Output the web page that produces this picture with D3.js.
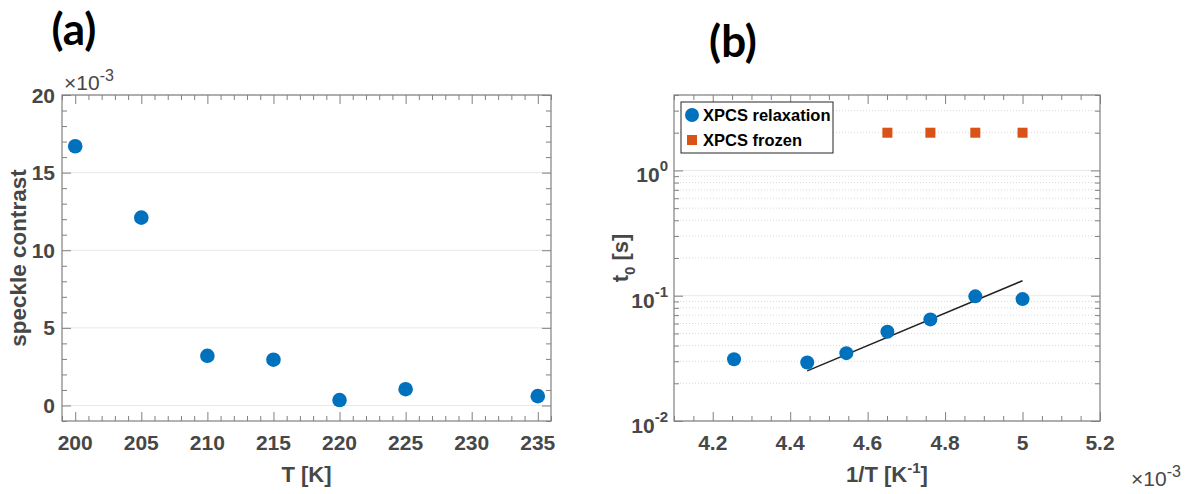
<!DOCTYPE html>
<html>
<head>
<meta charset="utf-8">
<script src="https://cdn.jsdelivr.net/npm/d3@7"></script>
<style>
  body { margin: 0; background: #fff; }
  text { font-family: "Liberation Sans", Arial, sans-serif; }
</style>
</head>
<body>
<div id="chart"></div>
<script>
// (a) speckle contrast vs temperature (values in units of 1e-3)
const temps = [200, 205, 210, 215, 220, 225, 235];
const contrast = [16.7, 12.1, 3.2, 2.95, 0.35, 1.05, 0.6];

// (b) relaxation time vs inverse temperature (1/T in units of 1e-3 K^-1)
const invT = [4.255, 4.444, 4.545, 4.651, 4.762, 4.878, 5.0];
const t0Relax = [0.0311, 0.0293, 0.0348, 0.0515, 0.0647, 0.0988, 0.094];
const invTFrozen = [4.651, 4.762, 4.878, 5.0];
const t0Frozen = [2, 2, 2, 2];
const fitX = [4.444, 5.0];
const fitY = [0.0251, 0.1318];

// tick labels
const ticksTa = [200, 205, 210, 215, 220, 225, 230, 235];
const ticksContrast = [0, 5, 10, 15, 20];
const ticksInvT = [4.2, 4.4, 4.6, 4.8, 5.0, 5.2];
const ticksT0 = [0.01, 0.1, 1];

const width = 1204;
const height = 494;
const blue = "#0072BD";
const orange = "#D95319";
const axisColor = "#808080";
const textColor = "#474747";
const gridColor = "#e8e8e8";

const svg = d3.select("#chart")
  .append("svg")
  .attr("width", width)
  .attr("height", height);

// frame of the two panels
const A = { left: 62, right: 551, top: 95, bottom: 421 };
const B = { left: 674, right: 1100, top: 95, bottom: 421 };

// scales
const xA = d3.scaleLinear().domain([199, 236]).range([A.left, A.right]);
const yA = d3.scaleLinear().domain([-1, 20]).range([A.bottom, A.top]);
const xB = d3.scaleLinear().domain([4.1, 5.2]).range([B.left, B.right]);
const yB = d3.scaleLog().domain([0.01, 4]).range([B.bottom, B.top]);

// draw ticks on all four sides, pointing inward
function boxAxes(P, x, y, xMajor, xMinor, yMajor, yMinor) {
  const g = svg.append("g");
  const axes = [
    [d3.axisBottom(x), `translate(0,${P.bottom})`, xMajor, xMinor],
    [d3.axisTop(x), `translate(0,${P.top})`, xMajor, xMinor],
    [d3.axisLeft(y), `translate(${P.left},0)`, yMajor, yMinor],
    [d3.axisRight(y), `translate(${P.right},0)`, yMajor, yMinor]
  ];
  axes.forEach(([ax, tr, major, minor]) => {
    g.append("g").attr("transform", tr)
      .call(ax.tickValues(minor).tickSize(-5).tickFormat("").tickSizeOuter(0));
    g.append("g").attr("transform", tr)
      .call(ax.tickValues(major).tickSize(-9).tickFormat("").tickSizeOuter(0));
  });
  g.selectAll("line").attr("stroke", axisColor);
  g.selectAll("path.domain").remove();
  g.append("rect")
    .attr("x", P.left).attr("y", P.top)
    .attr("width", P.right - P.left).attr("height", P.bottom - P.top)
    .attr("fill", "none").attr("stroke", axisColor).attr("stroke-width", 1.2);
}

// ---------- panel (a) ----------
svg.append("g").selectAll("line")
  .data(ticksContrast)
  .enter().append("line")
  .attr("x1", A.left).attr("x2", A.right)
  .attr("y1", d => yA(d)).attr("y2", d => yA(d))
  .attr("stroke", gridColor);

boxAxes(A, xA, yA, ticksTa, d3.range(199, 237).filter(v => v % 5 !== 0),
  ticksContrast, d3.range(-1, 21).filter(v => v % 5 !== 0));

svg.append("g").selectAll("text")
  .data(ticksTa).enter().append("text")
  .attr("x", d => xA(d)).attr("y", 450)
  .attr("text-anchor", "middle")
  .attr("font-size", 21).attr("font-weight", "bold").attr("fill", textColor)
  .text(d => d);

svg.append("g").selectAll("text")
  .data(ticksContrast).enter().append("text")
  .attr("x", A.left - 7).attr("y", d => yA(d)).attr("dy", "0.36em")
  .attr("text-anchor", "end")
  .attr("font-size", 21).attr("font-weight", "bold").attr("fill", textColor)
  .text(d => d);

svg.append("g").selectAll("circle")
  .data(temps).enter().append("circle")
  .attr("cx", d => xA(d))
  .attr("cy", (d, i) => yA(contrast[i]))
  .attr("r", 7.3)
  .attr("fill", blue);

const expA = svg.append("text")
  .attr("x", 64).attr("y", 90)
  .attr("font-size", 21).attr("fill", textColor);
expA.append("tspan").text("\u00d710");
expA.append("tspan").attr("dy", -9).attr("font-size", 16).text("-3");

svg.append("text")
  .attr("x", xA(217.5)).attr("y", 482)
  .attr("text-anchor", "middle")
  .attr("font-size", 22).attr("font-weight", "bold").attr("fill", textColor)
  .text("T [K]");

svg.append("text")
  .attr("transform", `translate(26,${(A.top + A.bottom) / 2}) rotate(-90)`)
  .attr("text-anchor", "middle")
  .attr("font-size", 22.5).attr("font-weight", "bold").attr("fill", textColor)
  .text("speckle contrast");

svg.append("text")
  .attr("x", 74).attr("y", 45)
  .attr("text-anchor", "middle")
  .style("font-family", "Lato, 'Open Sans', sans-serif")
  .attr("font-size", 44).attr("font-weight", "bold").attr("fill", "#000")
  .text("(a)");

// ---------- panel (b) ----------
const minorT0 = [];
[0.01, 0.1, 1].forEach(dec => {
  d3.range(2, 10).forEach(k => {
    if (dec * k <= 4) minorT0.push(dec * k);
  });
});

svg.append("g").selectAll("line")
  .data(minorT0).enter().append("line")
  .attr("x1", B.left).attr("x2", B.right)
  .attr("y1", d => yB(d)).attr("y2", d => yB(d))
  .attr("stroke", "#d9d9d9")
  .attr("stroke-dasharray", "1,2");

svg.append("g").selectAll("line")
  .data(ticksT0).enter().append("line")
  .attr("x1", B.left).attr("x2", B.right)
  .attr("y1", d => yB(d)).attr("y2", d => yB(d))
  .attr("stroke", gridColor);

const minorInvT = d3.range(0, 23).map(i => +(4.1 + i * 0.05).toFixed(2))
  .filter(v => !ticksInvT.some(t => Math.abs(t - v) < 1e-6));
boxAxes(B, xB, yB, ticksInvT, minorInvT, ticksT0, minorT0);

svg.append("g").selectAll("text")
  .data(ticksInvT).enter().append("text")
  .attr("x", d => xB(d)).attr("y", 450)
  .attr("text-anchor", "middle")
  .attr("font-size", 21).attr("font-weight", "bold").attr("fill", textColor)
  .text(d => d3.format("~g")(d));

const yLab = svg.append("g").selectAll("text")
  .data(ticksT0).enter().append("text")
  .attr("x", B.left - 6).attr("y", d => yB(d) + 12)
  .attr("text-anchor", "end")
  .attr("font-size", 21).attr("font-weight", "bold").attr("fill", textColor);
yLab.append("tspan").text("10");
yLab.append("tspan").attr("dy", -11).attr("font-size", 15)
  .text(d => Math.round(Math.log10(d)));

// fit line
svg.append("path")
  .datum(fitX.map((x, i) => [x, fitY[i]]))
  .attr("d", d3.line().x(d => xB(d[0])).y(d => yB(d[1])))
  .attr("fill", "none").attr("stroke", "#222").attr("stroke-width", 1.5);

svg.append("g").selectAll("circle")
  .data(invT).enter().append("circle")
  .attr("cx", d => xB(d))
  .attr("cy", (d, i) => yB(t0Relax[i]))
  .attr("r", 7)
  .attr("fill", blue);

svg.append("g").selectAll("rect")
  .data(invTFrozen).enter().append("rect")
  .attr("x", d => xB(d) - 5)
  .attr("y", (d, i) => yB(t0Frozen[i]) - 5)
  .attr("width", 10).attr("height", 10)
  .attr("fill", orange);

// legend
const leg = svg.append("g");
leg.append("rect")
  .attr("x", 681).attr("y", 102).attr("width", 152).attr("height", 51)
  .attr("fill", "#fff").attr("stroke", "#262626").attr("stroke-width", 1);
leg.append("circle").attr("cx", 692).attr("cy", 115).attr("r", 7).attr("fill", blue);
leg.append("rect").attr("x", 687).attr("y", 135).attr("width", 10).attr("height", 10).attr("fill", orange);
leg.append("text").attr("x", 703).attr("y", 121)
  .attr("font-size", 16.5).attr("font-weight", "bold").attr("fill", "#000")
  .text("XPCS relaxation");
leg.append("text").attr("x", 703).attr("y", 146)
  .attr("font-size", 16.5).attr("font-weight", "bold").attr("fill", "#000")
  .text("XPCS frozen");

const expB = svg.append("text")
  .attr("x", 1131).attr("y", 486)
  .attr("font-size", 21).attr("fill", textColor);
expB.append("tspan").text("\u00d710");
expB.append("tspan").attr("dy", -9).attr("font-size", 16).text("-3");

const xLabB = svg.append("text")
  .attr("x", (B.left + B.right) / 2).attr("y", 482)
  .attr("text-anchor", "middle")
  .attr("font-size", 22).attr("font-weight", "bold").attr("fill", textColor);
xLabB.append("tspan").text("1/T [K");
xLabB.append("tspan").attr("dy", -9).attr("font-size", 15).text("-1");
xLabB.append("tspan").attr("dy", 9).text("]");

const yLabB = svg.append("text")
  .attr("transform", `translate(628,${(B.top + B.bottom) / 2}) rotate(-90)`)
  .attr("text-anchor", "middle")
  .attr("font-size", 22).attr("font-weight", "bold").attr("fill", textColor);
yLabB.append("tspan").text("t");
yLabB.append("tspan").attr("dy", 7).attr("font-size", 15).text("0");
yLabB.append("tspan").attr("dy", -7).text(" [s]");

svg.append("text")
  .attr("x", 733).attr("y", 57)
  .attr("text-anchor", "middle")
  .style("font-family", "Lato, 'Open Sans', sans-serif")
  .attr("font-size", 44).attr("font-weight", "bold").attr("fill", "#000")
  .text("(b)");
</script>
</body>
</html>
